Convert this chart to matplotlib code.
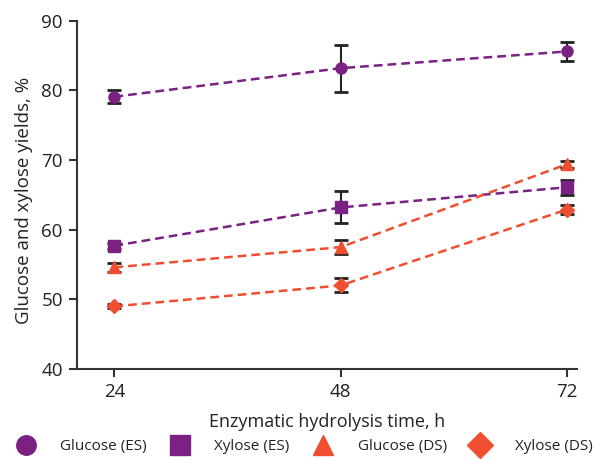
import matplotlib.pyplot as plt
from matplotlib.lines import Line2D

plt.rcParams['font.family'] = ['Open Sans', 'DejaVu Sans']

# hydrolysis time, h
tiempo = [24, 48, 72]

glucosa_es = [79.1, 83.2, 85.6]
glucosa_es_err = [0.9, 3.4, 1.35]
xilosa_es = [57.7, 63.2, 66.1]
xilosa_es_err = [0.4, 2.3, 1.1]
glucosa_ds = [54.6, 57.5, 69.4]
glucosa_ds_err = [0.6, 1.0, 0.5]
xilosa_ds = [49.0, 52.0, 62.9]
xilosa_ds_err = [0.3, 1.0, 0.7]

morado = '#7b2183'
naranja = '#f04e30'

fig = plt.figure(figsize=(5.95, 4.63), dpi=100)
ax = fig.add_axes([0.129, 0.203, 0.841, 0.752])

series = [
    (glucosa_es, glucosa_es_err, morado, 'o', 8, 'Glucose (ES)'),
    (xilosa_es, xilosa_es_err, morado, 's', 8, 'Xylose (ES)'),
    (glucosa_ds, glucosa_ds_err, naranja, '^', 8, 'Glucose (DS)'),
    (xilosa_ds, xilosa_ds_err, naranja, 'D', 7, 'Xylose (DS)'),
]

handles = []
for valores, errores, color, marcador, tam, nombre in series:
    ax.plot(tiempo, valores, color=color, linestyle=(0, (3.5, 2)), linewidth=1.8, zorder=2)
    ax.errorbar(tiempo, valores, yerr=errores, fmt='none', ecolor='#222222',
                elinewidth=1.5, capsize=5, capthick=2, zorder=3)
    ax.plot(tiempo, valores, linestyle='none', marker=marcador, markersize=tam,
            color=color, zorder=4)
    handles.append(Line2D([], [], linestyle='none', marker=marcador,
                          markersize=tam + 6, color=color, label=nombre))

ax.set_xlim(20, 73.1)
ax.set_ylim(40, 90)
ax.set_xticks(tiempo)
ax.set_yticks([40, 50, 60, 70, 80, 90])
for lado in ['top', 'right']:
    ax.spines[lado].set_visible(False)
for lado in ['left', 'bottom']:
    ax.spines[lado].set_linewidth(1.5)
    ax.spines[lado].set_color('#333333')
ax.tick_params(axis='both', length=6, width=1.5, color='#333333',
               labelsize=13.5, labelcolor='#222222', pad=4)

ax.set_xlabel('Enzymatic hydrolysis time, h', fontsize=13, color='#222222')
ax.set_ylabel('Glucose and xylose yields, %', fontsize=13.5, color='#222222')
ax.xaxis.set_label_coords(0.5, -0.125)
ax.yaxis.set_label_coords(-0.088, 0.483)

fig.legend(handles=handles, loc='lower center', bbox_to_anchor=(0.513, -0.01), ncol=4,
           frameon=False, fontsize=11, handletextpad=1.75, columnspacing=1.7,
           handlelength=1.0, labelcolor='#222222')

fig.savefig('out.png', dpi=100)
